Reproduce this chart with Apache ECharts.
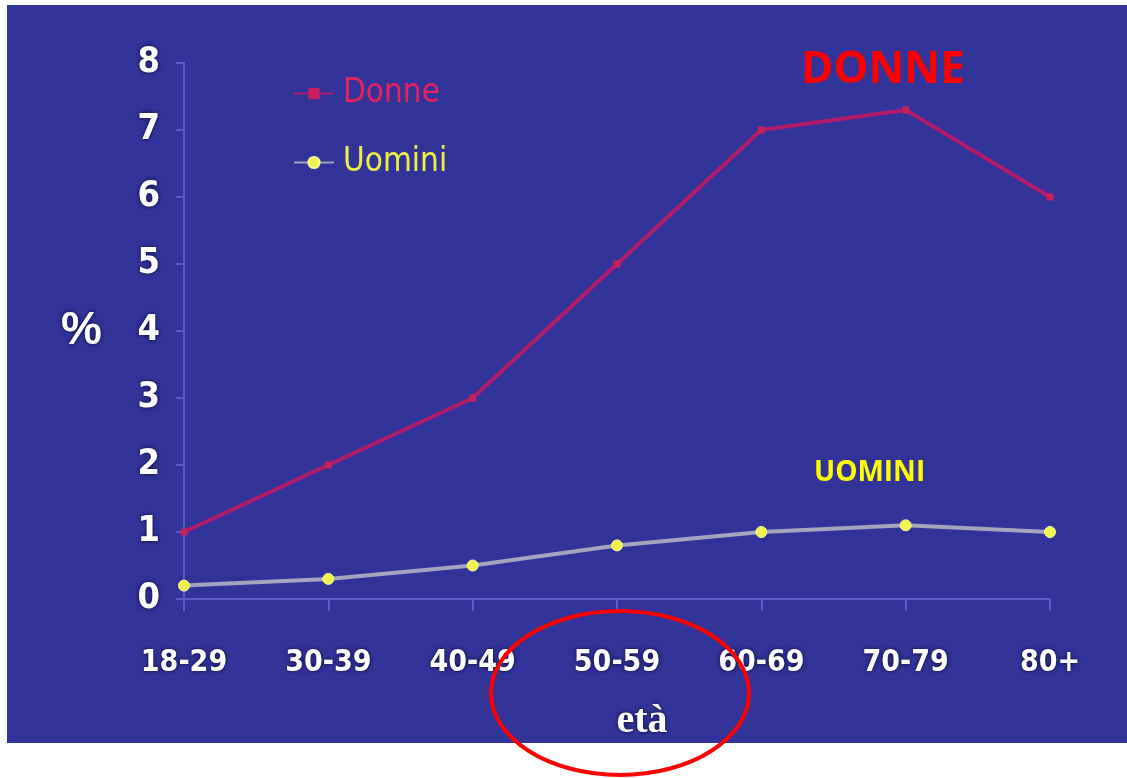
<!DOCTYPE html>
<html>
<head>
<meta charset="utf-8">
<script src="https://cdn.jsdelivr.net/npm/echarts@6.0.0/dist/echarts.min.js"></script>
<style>
  html, body { margin: 0; padding: 0; background: #ffffff; }
  #main { width: 1127px; height: 778px; }
</style>
</head>
<body>
<div id="main"></div>
<script>
  // fasce di età
  var eta = ['18-29', '30-39', '40-49', '50-59', '60-69', '70-79', '80+'];
  // valori in %
  var donne = [1.0, 2.0, 3.0, 5.0, 7.0, 7.3, 6.0];
  var uomini = [0.2, 0.3, 0.5, 0.8, 1.0, 1.1, 1.0];
  var yTicks = [0, 1, 2, 3, 4, 5, 6, 7, 8];

  var myChart = echarts.init(document.getElementById('main'));

  var stretto = 'DejaVu Sans Condensed, Liberation Sans, sans-serif';
  var ombra = {
    textShadowColor: 'rgba(10,10,50,0.95)',
    textShadowBlur: 4
  };
  var assi = '#5a5ac4';

  var option = {
    backgroundColor: 'transparent',
    animation: false,
    grid: {
      left: 184,
      right: 77,
      top: 63,
      bottom: 179,
      containLabel: false
    },
    legend: {
      orient: 'vertical',
      left: 288,
      top: 72,
      itemWidth: 40,
      itemHeight: 14,
      itemGap: 36,
      textStyle: {
        fontFamily: stretto,
        fontSize: 33,
        padding: [0, 0, 0, 4]
      },
      data: [
        { name: 'Donne', textStyle: { color: '#e8205c' } },
        { name: 'Uomini', textStyle: { color: '#eeee44' } }
      ]
    },
    xAxis: {
      type: 'category',
      data: eta,
      boundaryGap: false,
      name: 'età',
      nameLocation: 'middle',
      nameGap: 103,
      nameTextStyle: Object.assign({
        color: '#ffffff',
        fontFamily: 'Liberation Serif',
        fontWeight: 'bold',
        fontSize: 40,
        padding: [0, 0, 0, 50]
      }, ombra),
      axisLine: { lineStyle: { color: assi, width: 2 } },
      axisTick: { show: true, length: 12, lineStyle: { color: assi, width: 2 } },
      axisLabel: Object.assign({
        color: '#ffffff',
        fontFamily: stretto,
        fontWeight: 'bold',
        fontSize: 30,
        margin: 49
      }, ombra),
      splitLine: { show: false }
    },
    yAxis: {
      type: 'value',
      min: 0,
      max: 8,
      interval: 1,
      name: '%',
      nameLocation: 'middle',
      nameRotate: 0,
      nameGap: 82,
      nameTextStyle: Object.assign({
        color: '#ffffff',
        fontFamily: 'Liberation Sans',
        fontWeight: 'bold',
        fontSize: 46
      }, ombra),
      axisLine: { show: true, lineStyle: { color: assi, width: 2 } },
      axisTick: { show: true, length: 8, lineStyle: { color: assi, width: 2 } },
      axisLabel: Object.assign({
        color: '#ffffff',
        fontFamily: stretto,
        fontWeight: 'bold',
        fontSize: 36,
        margin: 24,
        formatter: function (v) { return yTicks.indexOf(v) >= 0 ? String(v) : ''; }
      }, ombra),
      splitLine: { show: false }
    },
    series: [
      {
        name: 'Donne',
        type: 'line',
        data: donne,
        symbol: 'rect',
        symbolSize: 7,
        lineStyle: { color: '#b01c68', width: 4 },
        itemStyle: { color: '#c8205e' },
        z: 3
      },
      {
        name: 'Uomini',
        type: 'line',
        data: uomini,
        symbol: 'circle',
        symbolSize: 11,
        lineStyle: { color: '#a4a4bc', width: 4 },
        itemStyle: { color: '#f2f24c', borderColor: '#fafaa0', borderWidth: 1 },
        z: 4
      }
    ],
    graphic: [
      {
        type: 'rect',
        z: -10,
        silent: true,
        shape: { x: 7, y: 5, width: 1120, height: 738 },
        style: { fill: '#323399' }
      },
      {
        type: 'text',
        z: 50,
        left: 801,
        top: 48,
        style: {
          text: 'DONNE',
          fill: '#ff0000',
          font: 'bold 44px "Open Sans"'
        }
      },
      {
        type: 'text',
        z: 50,
        left: 814,
        top: 459,
        style: {
          text: 'UOMINI',
          fill: '#ffff00',
          font: 'bold 28px "Open Sans"'
        }
      },
      {
        type: 'ellipse',
        z: 60,
        silent: true,
        shape: { cx: 620, cy: 693, rx: 129, ry: 82 },
        style: { fill: 'none', stroke: '#ff0000', lineWidth: 4 }
      }
    ]
  };

  myChart.setOption(option);
</script>
</body>
</html>
